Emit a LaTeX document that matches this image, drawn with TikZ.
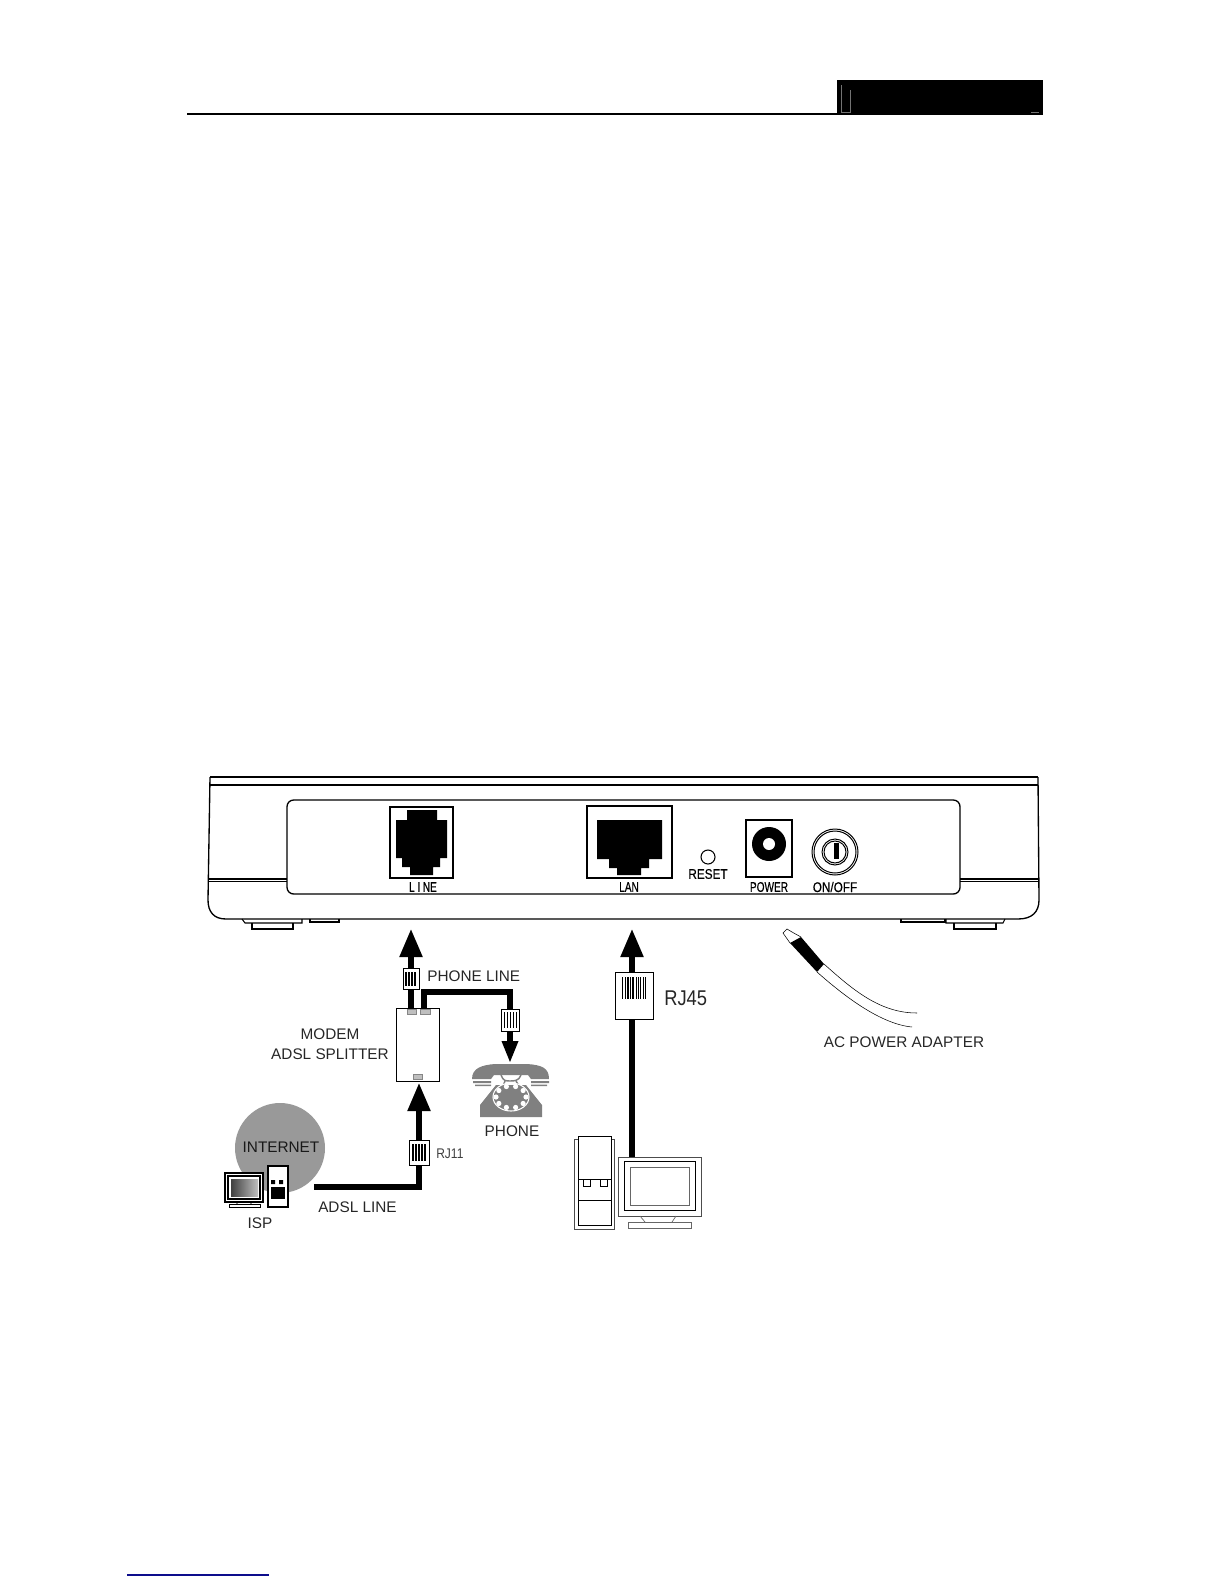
\documentclass[tikz,border=0pt]{standalone}
\usepackage{fontspec}
\setmainfont{Liberation Sans}
\newfontfamily\narrowfont[FakeStretch=0.72,FakeBold=0.4]{Liberation Sans}
\newfontfamily\widerfont[FakeStretch=0.84,FakeBold=0.4]{Liberation Sans}
\newfontfamily\jackfont[FakeStretch=0.86]{Liberation Sans}
\usetikzlibrary{arrows.meta}
\definecolor{phonegray}{gray}{0.5}
\definecolor{netgray}{gray}{0.6}
\definecolor{portgray}{gray}{0.75}
\definecolor{footblue}{rgb}{0.05,0.05,0.55}
\tikzset{
  panellabel/.style={inner sep=0pt, font=\narrowfont\fontsize{10.5}{11}\selectfont},
  widelabel/.style={inner sep=0pt, font=\widerfont\fontsize{10.5}{11}\selectfont},
  cablelabel/.style={inner sep=0pt, text=black!85, font=\fontsize{11.5}{12}\selectfont},
  plugbox/.style 2 args={draw, fill=white, line width=0.6pt, inner sep=0pt, minimum width=#1*0.75pt, minimum height=#2*0.75pt},
  cable/.style={line width=3.9pt},
  bigtip/.style={-{Triangle[length=21pt,width=16.5pt]}},
  smalltip/.style={-{Triangle[length=16.5pt,width=11.5pt]}}
}
\begin{document}
\begin{tikzpicture}[x=0.75pt,y=-0.75pt]
\useasboundingbox (0,0) rectangle (1224,1584);

% page header and footer
\draw [line width=1.5pt] (187,113.8) -- (837,113.8);
\fill [black] (837,80) rectangle (1043,115);
\draw [black!55, line width=0.5pt] (841,85) -- (841,112) -- (850,112) -- (850,90);
\draw [black!55, line width=0.5pt] (1031,112) -- (1039,112);
\draw [footblue, line width=0.9pt] (127,1575) -- (269,1575);

% router case
\draw [line width=1.2pt] (210,777) -- (1038,777);
\draw [line width=1pt] (210,785) -- (1038,785);
\draw [line width=1pt] (210,777) -- (208,900) .. controls (208,912) and (214,919) .. (226,919) -- (1018,919) .. controls (1032,919) and (1039,912) .. (1039,900) -- (1038,777);
\draw [line width=1pt] (208,879) -- (287,879) (960,879) -- (1039,879);
\draw [line width=0.6pt] (208,881) -- (287,881) (960,881) -- (1039,881);
\draw [line width=1pt, rounded corners=5pt] (287,800) rectangle (960,894);

% feet
\draw [line width=0.8pt] (242,919) -- (245,923) -- (302,923) -- (302,919);
\draw [line width=0.8pt] (252,923) -- (252,929) -- (293,929) -- (293,923);
\draw [line width=0.8pt] (310,919) -- (310,922) -- (339,922) -- (339,919);
\draw [line width=0.8pt] (901,919) -- (901,922) -- (945,922) -- (945,919);
\draw [line width=0.8pt] (946,919) -- (946,923) -- (1003,923) -- (1005,919);
\draw [line width=0.8pt] (954,923) -- (954,929) -- (996,929) -- (996,923);

% LINE jack
\draw [line width=1.1pt] (390,807) rectangle (453,878);
\fill [black] (407,810) -- (437,810) -- (437,820) -- (447,820) -- (447,858) -- (440,858) -- (440,867) -- (433,867) -- (433,875) -- (410,875) -- (410,867) -- (402,867) -- (402,858) -- (396,858) -- (396,820) -- (407,820) -- cycle;
\node [panellabel] (linelabel) at (423,887) {L\kern2pt I\kern2pt NE};

% LAN jack
\draw [line width=1.1pt] (587,806) rectangle (672,878);
\fill [black] (597,820) -- (662,820) -- (662,859) -- (649,859) -- (649,868) -- (641,868) -- (641,875) -- (617,875) -- (617,868) -- (609,868) -- (609,859) -- (597,859) -- cycle;
\node [panellabel] (lanlabel) at (629,887) {LAN};

% reset, power, switch
\draw [line width=0.8pt] (708,857) circle (7);
\node [widelabel] (resetlabel) at (708,874) {RESET};
\draw [line width=1pt] (746,820) rectangle (792,877);
\fill [black] (769,844) circle (17);
\fill [white] (769,844) circle (6);
\node [panellabel] (powerlabel) at (769,887) {POWER};
\foreach \r in {23,21,13,11} \draw [line width=0.75pt] (835,852) circle (\r);
\fill [black] (833.5,843) rectangle (838.5,859);
\node [widelabel] (onofflabel) at (835,887) {ON/OFF};

% splitter
\node [plugbox={43}{73}] (splitter) at (417.5,1044.5) {};
\node [cablelabel, align=center] (splitterlabel) at (330,1044.5) {MODEM\\[3pt]ADSL SPLITTER};
\coordinate (lineport) at (411,1008);
\coordinate (phoneport) at (424,1008);
\coordinate (linetip) at (411,929);
\coordinate (phonetip) at (510,1063);
\coordinate (adsltip) at (419,1083);
\coordinate (lantip) at (632,929);
\coordinate (ispend) at (314,1187);
\coordinate (pcend) at (632,1157);

% internet cloud
\fill [netgray] (280,1148) circle (45);
\node [cablelabel, text=black!90] (internet) at (281,1147) {INTERNET};

% phone
\fill [phonegray] (472,1079) .. controls (472,1068) and (482,1065) .. (495,1064) -- (527,1064) .. controls (542,1065) and (549,1068) .. (549,1079) -- (531,1079) -- (528,1075) -- (494,1075) -- (491,1079) -- cycle;
\fill [phonegray] (473,1081) rectangle (491,1083) (531,1081) rectangle (549,1083);
\fill [phonegray] (475,1084.5) rectangle (491,1086) (531,1084.5) rectangle (547,1086);
\draw [phonegray, line width=1.1pt] (501,1075) .. controls (503,1081) and (506,1081) .. (510,1081) .. controls (514,1081) and (519,1081) .. (521,1075);
\draw [phonegray, line width=1.1pt] (505,1081) -- (503,1086) (516,1081) -- (519,1086);
\fill [phonegray] (496,1085) -- (526,1085) -- (542,1105) -- (542,1117) -- (480,1117) -- (480,1105) -- cycle;
\draw [white, line width=0.8pt] (511,1097) ellipse (18 and 14);
\foreach \a in {0,36,...,324} \fill [white] (511,1097) ++(\a:15 and 11) circle (2.6);
\node [cablelabel] (phonelabel) at (512,1131) {PHONE};

% ISP computer
\draw [line width=0.8pt, fill=white] (225,1173) rectangle (263,1202);
\draw [line width=0.8pt] (228,1176) rectangle (260,1199);
\shade [left color=black!75, right color=black!25] (231,1179) rectangle (258,1196);
\draw [line width=0.5pt] (238,1202) -- (236,1205) (250,1202) -- (252,1205);
\draw [line width=0.6pt, fill=white] (229,1204.5) rectangle (260,1207);
\draw [line width=0.8pt, fill=white] (268,1166) rectangle (288,1207);
\fill [black] (271,1180) rectangle (275,1184) (279,1180) rectangle (283,1184);
\fill [black] (271,1187) rectangle (285,1199);
\node [cablelabel] (isplabel) at (260,1223) {ISP};

% plugs
\node [plugbox={20}{25}] (rjeleven) at (419,1152.5) {};
\foreach \x in {413,416,419,422,425} \fill [black] (\x-0.8,1144) rectangle (\x+0.8,1161);
\node [inner sep=0pt, text=black!75, font=\jackfont\fontsize{10.5}{11}\selectfont, anchor=west] (rjelevenlabel) at (436,1154) {RJ11};

\node [plugbox={16}{21}] (rjline) at (411,978.5) {};
\foreach \x in {406,409,412,415} \fill [black] (\x-0.7,972) rectangle (\x+0.7,986);
\node [cablelabel, anchor=west] (phonelinelabel) at (427,976) {PHONE LINE};

\node [plugbox={18}{22}] (rjphone) at (510,1020) {};
\foreach \x in {504.5,507.5,510.5,513.5,516.5} \fill [black] (\x-0.7,1012) rectangle (\x+0.7,1028);

\node [plugbox={38}{47}] (rjlan) at (634,995.5) {};
\foreach \x/\w in {622/1.4,625/1,627/1.6,630/1,632/2.4,635.5/1,637.5/1.6,640/1.2,642.5/1,644.5/1.5} \fill [black] (\x,977) rectangle ++(\w,22);
\node [inner sep=0pt, anchor=west, text=black!85, font=\jackfont\fontsize{16}{17}\selectfont] (rjfive) at (664,998) {RJ45};

% cables
\draw [cable] (ispend) -| (rjeleven.south);
\draw [cable, bigtip] (rjeleven.north) -- (adsltip);
\node [cablelabel, anchor=west] (adsllabel) at (318,1207) {ADSL LINE};
\draw [cable] (lineport) -- (rjline.south);
\draw [cable, bigtip] (rjline.north) -- (linetip);
\draw [cable] (phoneport) |- (rjphone.north |- 0,992) -- (rjphone.north);
\draw [cable, smalltip] (rjphone.south) -- (phonetip);
\draw [cable] (pcend) -- (rjlan.south -| pcend);
\draw [cable, bigtip] (rjlan.north -| pcend) -- (lantip);

% splitter ports
\foreach \x/\w/\y in {407/9/1009,420/10/1009,413/9/1074} \draw [portgray!70!black, fill=portgray, line width=0.3pt] (\x,\y) rectangle ++(\w,5.5);

% PC
\draw [black!70, line width=0.6pt] (574,1139) rectangle (614,1229);
\draw [line width=0.7pt, fill=white] (578,1136) rectangle (611,1179);
\draw [line width=0.7pt] (578,1179) -- (578,1225) -- (611,1225) -- (611,1179) (578,1200) -- (611,1200);
\draw [line width=0.5pt] (583,1179) rectangle (590,1186) (600,1179) rectangle (607,1186);
\draw [black!70, line width=0.6pt, fill=white] (618,1157) rectangle (701,1216);
\draw [line width=0.7pt] (624,1161) rectangle (695,1210);
\draw [black!60, line width=0.6pt] (630,1167) rectangle (689,1205);
\draw [black!60, line width=0.5pt] (640,1216) -- (645,1222) (676,1216) -- (672,1222);
\draw [black!60, line width=0.6pt] (628,1222) rectangle (691,1228);

% power adapter
\draw [line width=0.4pt] (790,943) -- (783,933) -- (787,929) -- (792,932) -- (801,937);
\fill [black] (790,943) -- (801,937) -- (824,964) -- (817,972) -- cycle;
\draw [line width=0.4pt] (824,964) .. controls (853,990) and (880,1013) .. (917,1013);
\draw [line width=0.4pt] (817,972) .. controls (843,995) and (880,1024) .. (912,1027);
\node [cablelabel] (adapterlabel) at (904,1042) {AC POWER ADAPTER};

\end{tikzpicture}
\end{document}
